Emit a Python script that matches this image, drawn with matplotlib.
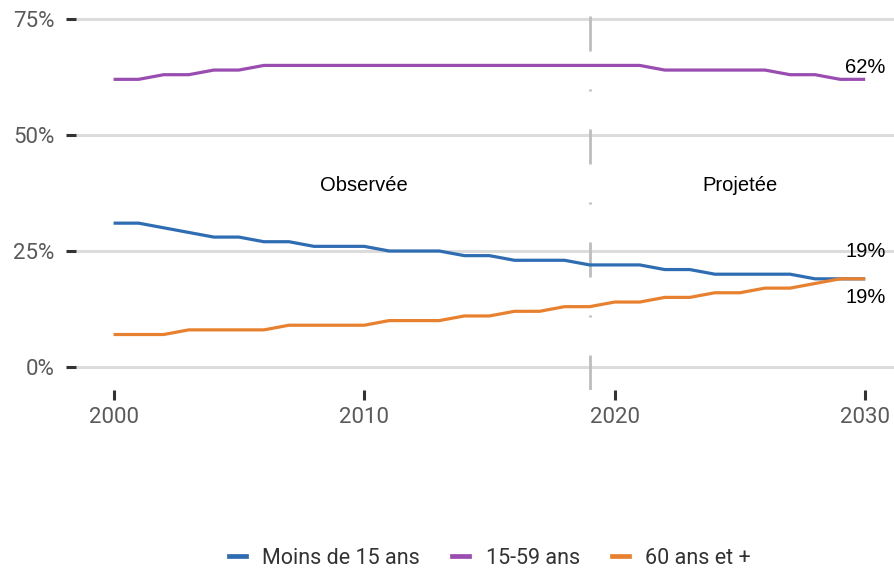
import matplotlib
matplotlib.use("Agg")
import matplotlib.pyplot as plt
from matplotlib.lines import Line2D

years = list(range(2000, 2031))
moins15 = [31, 31, 30, 29, 28, 28, 27, 27, 26, 26, 26, 25, 25, 25, 24, 24,
           23, 23, 23, 22, 22, 22, 21, 21, 20, 20, 20, 20, 19, 19, 19]
age15_59 = [62, 62, 63, 63, 64, 64, 65, 65, 65, 65, 65, 65, 65, 65, 65, 65,
            65, 65, 65, 65, 65, 65, 64, 64, 64, 64, 64, 63, 63, 62, 62]
age60 = [7, 7, 7, 8, 8, 8, 8, 9, 9, 9, 9, 10, 10, 10, 11, 11,
         12, 12, 13, 13, 14, 14, 15, 15, 16, 16, 17, 17, 18, 19, 19]
series_names = ["Moins de 15 ans", "15-59 ans", "60 ans et +"]
colors = ["#2F6DB3", "#9A4DB0", "#E8812F"]
y_ticks = [0, 25, 50, 75]
y_tick_labels = ["0%", "25%", "50%", "75%"]
x_ticks = [2000, 2010, 2020, 2030]
split_year = 2019
periods = ["Observée", "Projetée"]
period_x = [2010, 2025]

plt.rcParams['lines.scale_dashes'] = False

W, H = 894, 572
fig = plt.figure(figsize=(W / 100, H / 100), dpi=100)
ax = fig.add_axes([76 / W, (H - 390) / H, 1 - 76 / W, 390 / H])

for yt in y_ticks:
    ax.axhline(yt, color="#DCDCDC", lw=2.2, zorder=1)

px = 0.72
ax.axvline(split_year, color="#BDBDBD", lw=2.0, zorder=2,
           linestyle=(0, (35 * px, 38 * px, 2 * px, 38 * px)))

for vals, c in zip([moins15, age15_59, age60], colors):
    ax.plot(years, vals, color=c, lw=2.3, zorder=3, solid_capstyle="butt")

ax.set_xlim(1998.5, 2031.15)
ax.set_ylim(-4.96, 79.1)

ax.set_yticks(y_ticks)
ax.set_yticklabels(y_tick_labels)
ax.set_xticks(x_ticks)
ax.set_xticklabels([str(x) for x in x_ticks])
for s in ax.spines.values():
    s.set_visible(False)
ax.tick_params(axis="both", colors="#333333", width=2.2, length=7.5,
               labelcolor="#5A5A5A", labelsize=16)
ax.tick_params(axis="y", pad=8)
ax.tick_params(axis="x", pad=5)
for lab in ax.get_xticklabels() + ax.get_yticklabels():
    lab.set_fontfamily("Roboto")

afont = dict(family="Liberation Sans", fontsize=14.5, color="#000000",
             ha="center", va="center")
for name, xp in zip(periods, period_x):
    ax.text(xp, 39.2, name, **afont)

ax.text(years[-1], age15_59[-1] + 2.5, f"{age15_59[-1]}%", **afont)
ax.text(years[-1], moins15[-1] + 5.8, f"{moins15[-1]}%", **afont)
ax.text(years[-1], age60[-1] - 4.1, f"{age60[-1]}%", **afont)

handles = [Line2D([0], [0], color=c, lw=3.4) for c in colors]
leg = fig.legend(handles, series_names, loc="center",
                 bbox_to_anchor=(490 / W, 1 - 558 / H), ncol=3, frameon=False,
                 handlelength=0.8, handletextpad=0.75, columnspacing=1.5,
                 prop={"family": "Roboto", "size": 15.5})
for t in leg.get_texts():
    t.set_color("#333333")

fig.savefig("out.png", dpi=100)
